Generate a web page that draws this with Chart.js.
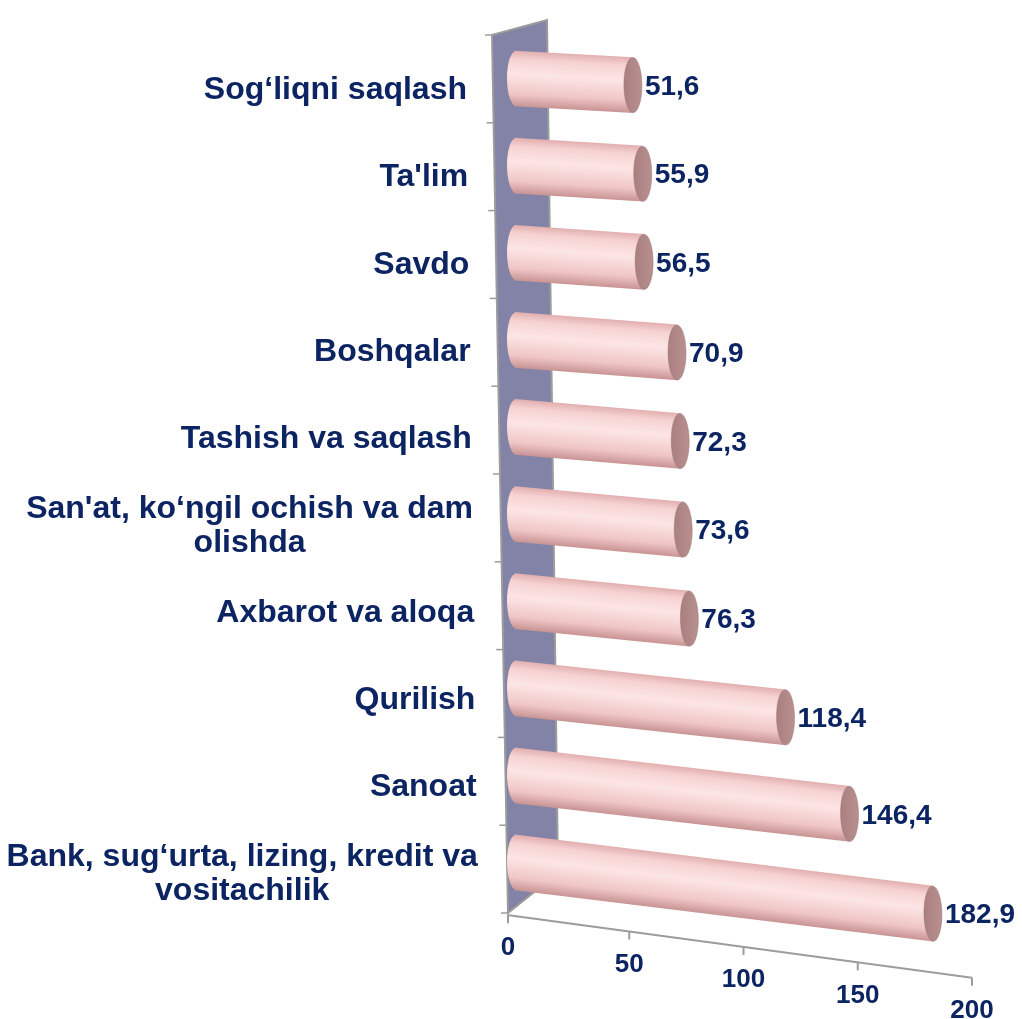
<!DOCTYPE html>
<html><head><meta charset="utf-8">
<script src="https://cdn.jsdelivr.net/npm/chart.js@4/dist/chart.umd.min.js"></script>
<style>html,body{margin:0;padding:0;background:#fff}#wrap{width:1022px;height:1019px}</style>
</head><body><div id="wrap"><canvas id="c" width="1022" height="1019"></canvas></div>
<script>
const categories = [
  "Sog‘liqni saqlash",
  "Ta'lim",
  "Savdo",
  "Boshqalar",
  "Tashish va saqlash",
  ["San'at, ko‘ngil ochish va dam", "olishda"],
  "Axbarot va aloqa",
  "Qurilish",
  "Sanoat",
  ["Bank, sug‘urta, lizing, kredit va", "vositachilik"]
];
const values = [51.6, 55.9, 56.5, 70.9, 72.3, 73.6, 76.3, 118.4, 146.4, 182.9];
const valueLabels = ["51,6","55,9","56,5","70,9","72,3","73,6","76,3","118,4","146,4","182,9"];
const xTicks = [0, 50, 100, 150, 200];

const NAVY = '#0c2462';
const FONT = '"Liberation Sans", Arial, sans-serif';
const BAR_T = 55;
// perspective shear of each cylinder (grows toward the viewer)
const shear = i => 0.055 + 0.0075 * i;

function cylGradient(ctx, yc, h) {
  const g = ctx.createLinearGradient(0, yc - h, 0, yc + h);
  g.addColorStop(0, '#e3b0b0');
  g.addColorStop(0.15, '#f6d2d2');
  g.addColorStop(0.42, '#fde5e5');
  g.addColorStop(0.78, '#f0c6c6');
  g.addColorStop(1, '#c99595');
  return g;
}

const wallPlugin = {
  id: 'wall',
  beforeDatasetsDraw(chart) {
    const {ctx, chartArea: a} = chart;
    const L = a.left, T = a.top, B = a.bottom;
    ctx.save();
    ctx.beginPath();
    ctx.moveTo(L - 23, T);
    ctx.lineTo(L + 32, T - 15);
    ctx.lineTo(L + 43, B - 33);
    ctx.lineTo(L - 7, B + 7);
    ctx.closePath();
    ctx.fillStyle = '#8283a6';
    ctx.fill();
    ctx.strokeStyle = '#9c9c9c';
    ctx.lineWidth = 2;
    ctx.stroke();
    const n = categories.length;
    const step = (B + 7 - T) / n;
    ctx.lineWidth = 1.5;
    for (let k = 0; k <= n; k++) {
      const y = T + k * step;
      const x = (L - 23) + (y - T) * (16 / (B + 7 - T));
      ctx.beginPath();
      ctx.moveTo(x - 7, y);
      ctx.lineTo(x, y);
      ctx.stroke();
    }
    ctx.restore();
  }
};

const barPlugin = {
  id: 'cyl',
  beforeDatasetDraw(chart, args) {
    const {ctx} = chart;
    const meta = chart.getDatasetMeta(args.index);
    meta.data.forEach((el, i) => {
      const k = shear(i);
      const h = el.height / 2;
      ctx.save();
      ctx.transform(1, k, 0, 1, 0, -k * el.base);
      // left rounded end (same shading as the body)
      ctx.beginPath();
      ctx.ellipse(el.base + 1, el.y, 9, h, 0, Math.PI / 2, Math.PI * 1.5);
      ctx.fillStyle = cylGradient(ctx, el.y, h);
      ctx.fill();
      el.draw(ctx, chart.chartArea);
      // right cap
      ctx.beginPath();
      ctx.ellipse(el.x, el.y, 9, h, 0, 0, Math.PI * 2);
      const g2 = ctx.createLinearGradient(el.x - 9, 0, el.x + 9, 0);
      g2.addColorStop(0, '#a97f80');
      g2.addColorStop(1, '#b99090');
      ctx.fillStyle = g2;
      ctx.fill();
      ctx.strokeStyle = 'rgba(160,120,120,0.5)';
      ctx.lineWidth = 1;
      ctx.stroke();
      ctx.restore();
      // value label
      ctx.save();
      ctx.fillStyle = NAVY;
      ctx.font = 'bold 28px ' + FONT;
      ctx.textBaseline = 'middle';
      ctx.textAlign = 'left';
      ctx.fillText(valueLabels[i], el.x + 12, el.y + k * (el.x - el.base) + 2);
      ctx.restore();
    });
    return false;
  },
  afterDraw(chart) {
    const {ctx, chartArea: a} = chart;
    const ys = chart.scales.y, xs = chart.scales.x;
    ctx.save();
    ctx.fillStyle = NAVY;
    ctx.font = 'bold 32px ' + FONT;
    ctx.textBaseline = 'middle';
    ctx.textAlign = 'center';
    categories.forEach((lab, i) => {
      const lines = Array.isArray(lab) ? lab : [lab];
      const w = Math.max(...lines.map(s => ctx.measureText(s).width));
      const right = a.left - 48 + i * 1.2;
      const cx = right - w / 2;
      const yc = ys.getPixelForValue(i) + 12;
      const lh = 34;
      lines.forEach((s, j) => {
        ctx.fillText(s, cx, yc + (j - (lines.length - 1) / 2) * lh);
      });
    });
    // slanted value axis
    const x0 = xs.getPixelForValue(0) - 8;
    const y0 = a.bottom + 9;
    const slope = 0.135;
    const ay = x => y0 + slope * (x - x0);
    const xEnd = xs.getPixelForValue(200);
    ctx.strokeStyle = '#9c9c9c';
    ctx.lineWidth = 2;
    ctx.beginPath();
    ctx.moveTo(x0, y0);
    ctx.lineTo(xEnd, ay(xEnd));
    ctx.stroke();
    ctx.font = 'bold 26px ' + FONT;
    ctx.textAlign = 'center';
    xTicks.forEach(v => {
      const x = xs.getPixelForValue(v) - (v === 0 ? 7 : 0);
      ctx.beginPath();
      ctx.moveTo(x, ay(x));
      ctx.lineTo(x, ay(x) + 8);
      ctx.stroke();
      ctx.fillText(String(v), x, ay(x) + 33);
    });
    ctx.restore();
  }
};

function barGradient(context) {
  const chart = context.chart;
  const ys = chart.scales.y;
  if (!ys || !chart.chartArea) return '#f5c8c8';
  const yc = ys.getPixelForValue(context.dataIndex);
  if (!isFinite(yc)) return '#f5c8c8';
  return cylGradient(chart.ctx, yc, BAR_T / 2);
}

new Chart(document.getElementById('c'), {
  type: 'bar',
  data: {
    labels: categories,
    datasets: [{
      data: values,
      backgroundColor: barGradient,
      borderWidth: 0,
      barThickness: BAR_T
    }]
  },
  options: {
    indexAxis: 'y',
    responsive: false,
    animation: false,
    layout: { padding: { top: 35, right: 50, bottom: 113, left: 0 } },
    plugins: { legend: { display: false }, tooltip: { enabled: false } },
    scales: {
      x: { min: 0, max: 200, display: false },
      y: {
        afterFit(scale) { scale.width = 515; },
        ticks: { display: false },
        grid: { display: false },
        border: { display: false }
      }
    }
  },
  plugins: [wallPlugin, barPlugin]
});
</script>
</body></html>
